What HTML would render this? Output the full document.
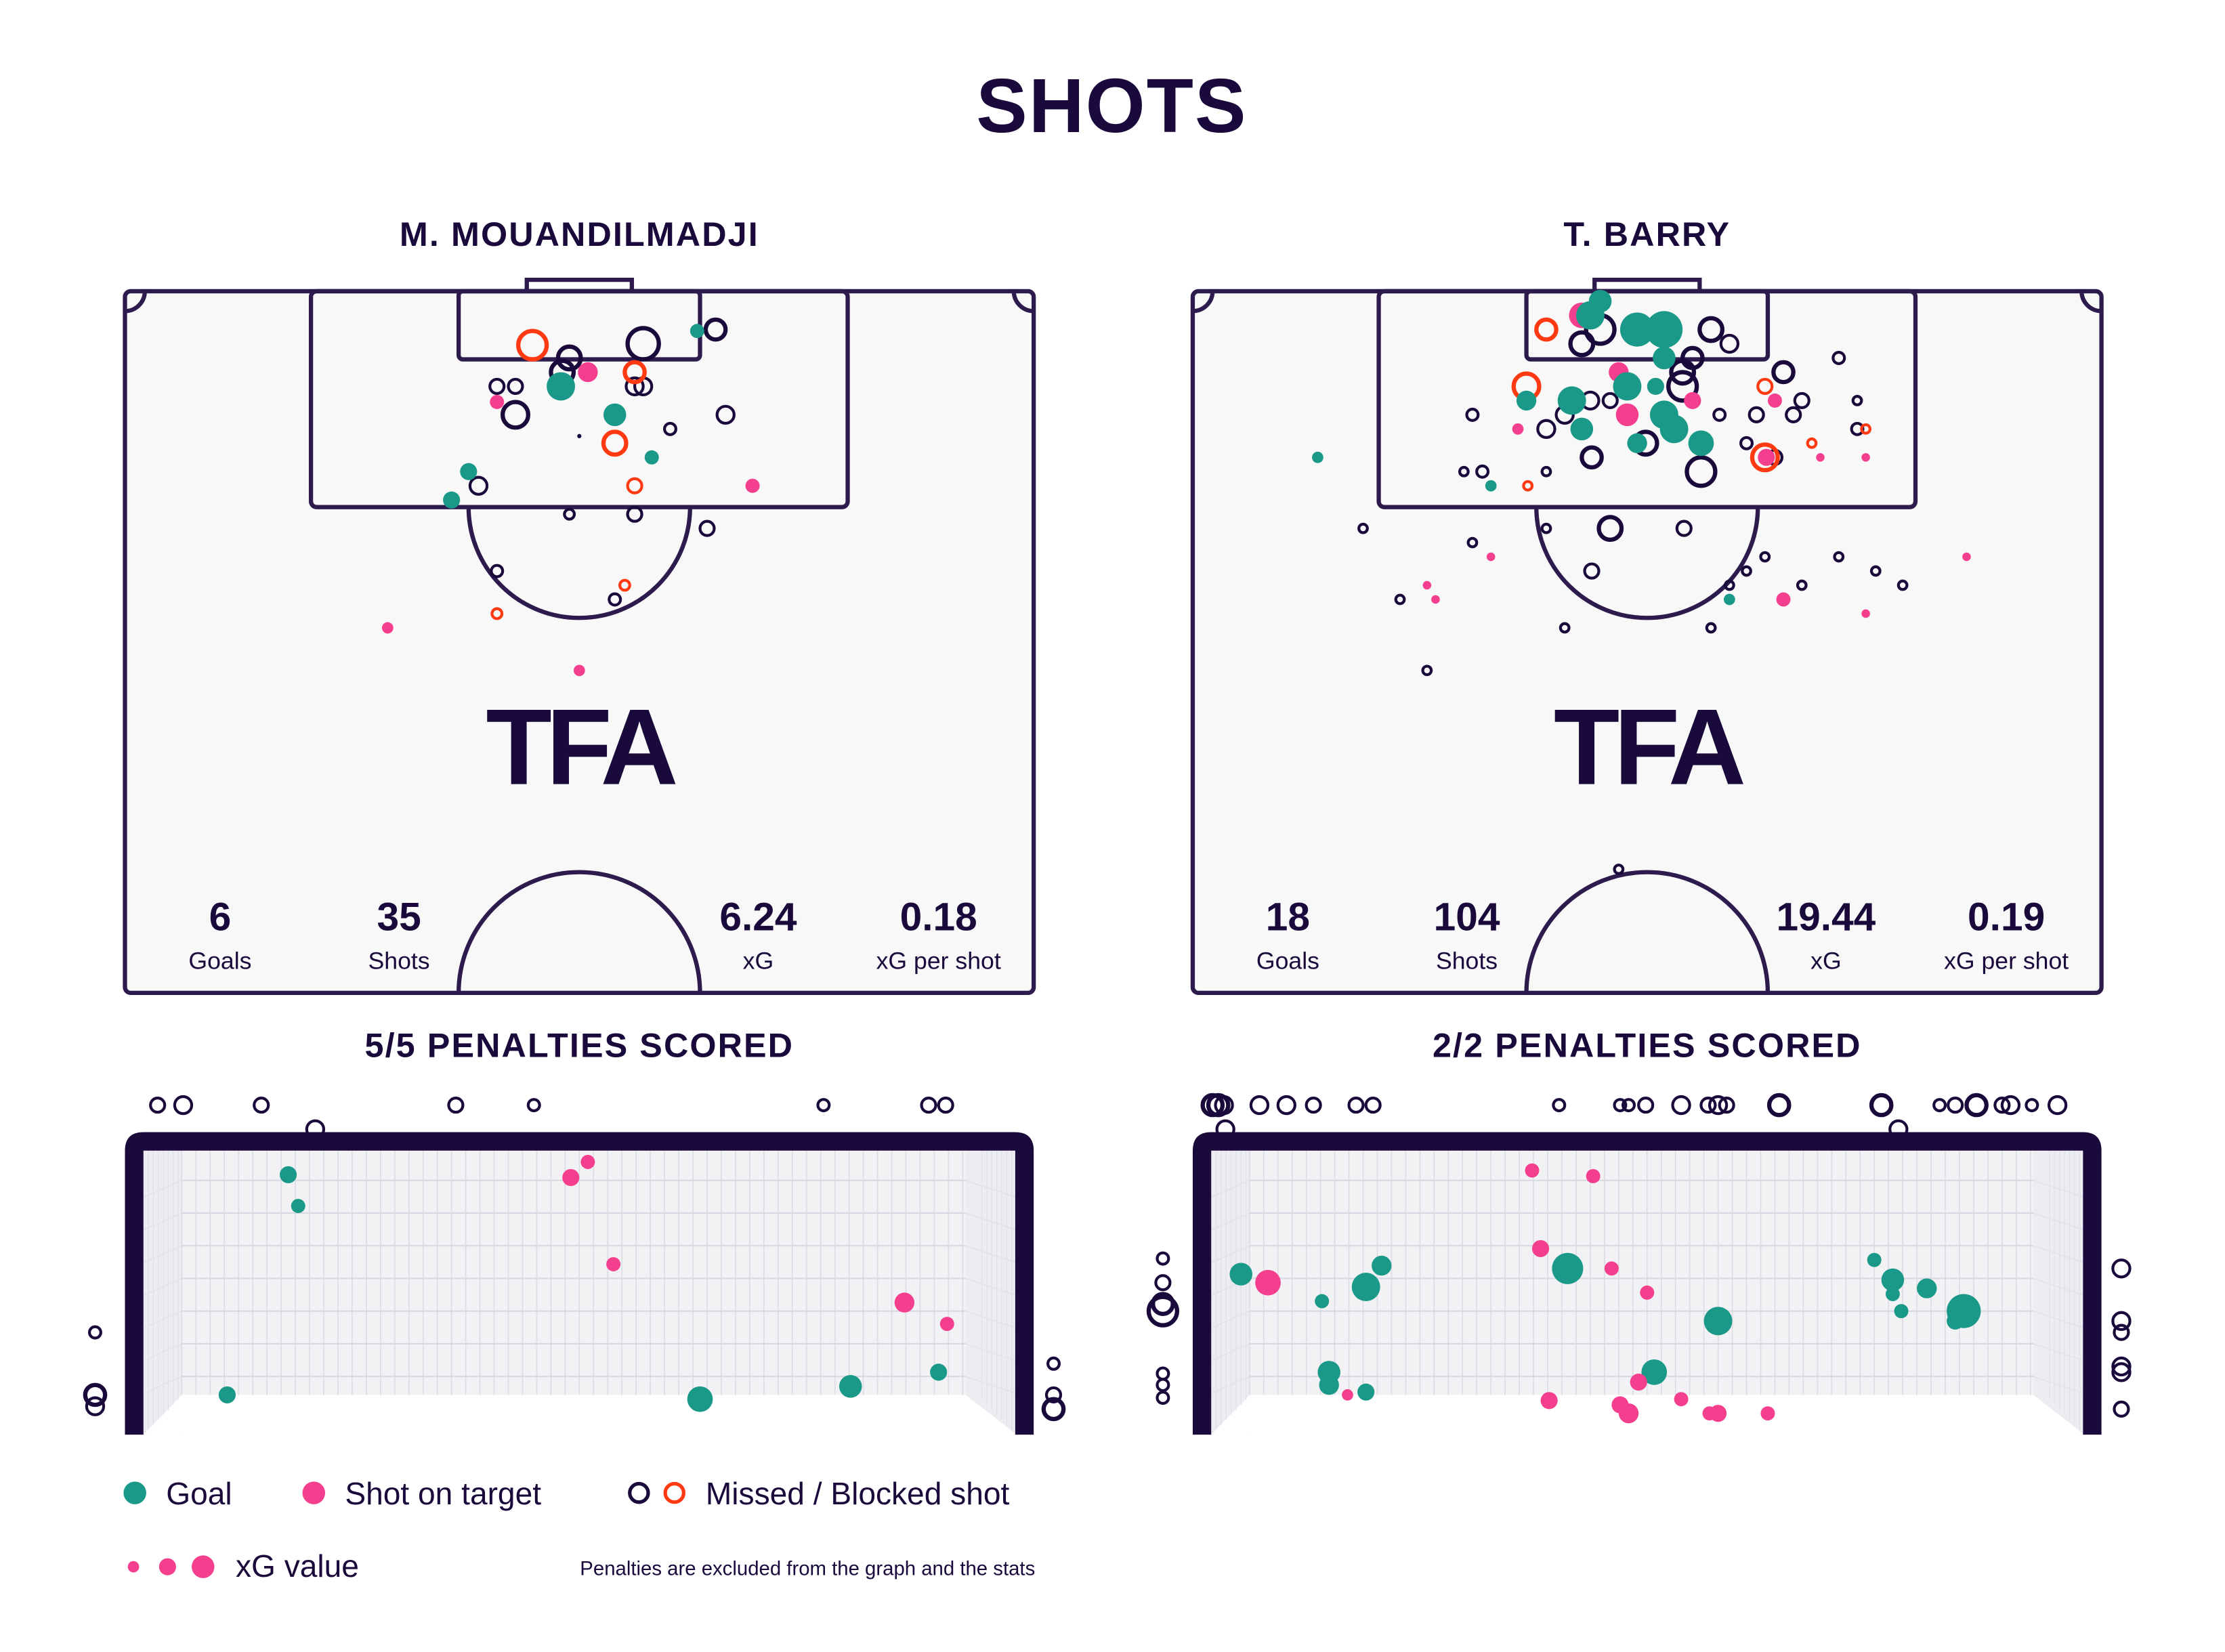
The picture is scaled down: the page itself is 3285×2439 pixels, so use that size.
<!DOCTYPE html>
<html><head><meta charset="utf-8"><style>
html,body{margin:0;padding:0;background:#fff}
svg{display:block}
text{font-family:"Liberation Sans",sans-serif;fill:#1a0a3c}
.b{font-weight:bold}
</style></head><body>
<svg id="s" xmlns="http://www.w3.org/2000/svg" width="3285" height="2439" viewBox="0 0 1567 1163" preserveAspectRatio="none">
<rect width="1567" height="1163" fill="#fff"/>
<text x="783" y="93" text-anchor="middle" class="b" font-size="54" letter-spacing="1">SHOTS</text>
<g id="pitches"></g>
<text x="408" y="173" text-anchor="middle" class="b" font-size="24" letter-spacing="1">M. MOUANDILMADJI</text>
<text x="1160" y="173" text-anchor="middle" class="b" font-size="24" letter-spacing="1">T. BARRY</text>
<text x="408" y="744" text-anchor="middle" class="b" font-size="24" letter-spacing="1">5/5 PENALTIES SCORED</text>
<text x="1160" y="744" text-anchor="middle" class="b" font-size="24" letter-spacing="1">2/2 PENALTIES SCORED</text>
<g id="dots"></g>
<g font-size="22">
<circle cx="95" cy="1051" r="8" fill="#1a9988"/><text x="117" y="1059">Goal</text>
<circle cx="221" cy="1051" r="8" fill="#f43f8f"/><text x="243" y="1059">Shot on target</text>
<circle cx="450" cy="1051" r="6.5" fill="none" stroke="#1a0a3c" stroke-width="2.5"/>
<circle cx="475" cy="1051" r="6.5" fill="none" stroke="#ff3a12" stroke-width="2.5"/><text x="497" y="1059">Missed / Blocked shot</text>
<circle cx="94" cy="1103" r="4" fill="#f43f8f"/><circle cx="118" cy="1103" r="6" fill="#f43f8f"/><circle cx="143" cy="1103" r="8" fill="#f43f8f"/>
<text x="166" y="1110">xG value</text>
</g>
<text x="729" y="1109" text-anchor="end" font-size="14">Penalties are excluded from the graph and the stats</text>
</svg>
<script>
var NS="http://www.w3.org/2000/svg",P=document.getElementById("pitches"),D=document.getElementById("dots");
function el(t,a,p){var e=document.createElementNS(NS,t);for(var k in a)e.setAttribute(k,a[k]);(p||P).appendChild(e);return e;}
var L="#2d1b4e";
function pitch(o,st){
 var g=el("g",{transform:"translate("+o+",0)",fill:"none",stroke:L,"stroke-width":3});
 el("rect",{x:88,y:205,width:640,height:494,rx:4,fill:"#f8f8f8"},g);
 el("path",{d:"M330,357 A78,78 0 0 0 486,357"},g);
 el("rect",{x:219,y:205,width:378,height:152,rx:4},g);
 el("rect",{x:323,y:205,width:170,height:48,rx:3},g);
 el("path",{d:"M371,205 V197 H445 V205"},g);
 el("path",{d:"M323,699 A85,85 0 0 1 493,699"},g);
 el("path",{d:"M88,219 A14,14 0 0 0 102,205 M728,219 A14,14 0 0 1 714,205"},g);
 var t=el("text",{x:408,y:552,"text-anchor":"middle","font-size":76,"font-weight":"bold",stroke:"none","letter-spacing":-4},g);t.textContent="TFA";
 var xs=[155,281,534,661],lab=["Goals","Shots","xG","xG per shot"];
 for(var i=0;i<4;i++){var a=el("text",{x:xs[i],y:655,"text-anchor":"middle","font-size":28,"font-weight":"bold",stroke:"none"},g);a.textContent=st[i];
  var b=el("text",{x:xs[i],y:682,"text-anchor":"middle","font-size":17,stroke:"none"},g);b.textContent=lab[i];}
 var n=el("g",{},g);
 el("rect",{x:101,y:808,width:615,height:202,fill:"#f2f2f5",stroke:"none"},n);
 el("polygon",{points:"101,808 128,808 128,982 101,1010",fill:"#ececf1",stroke:"none"},n);
 el("polygon",{points:"716,808 680,808 680,982 716,1010",fill:"#ececf1",stroke:"none"},n);
 el("rect",{x:128,y:982,width:552,height:28,fill:"#fff",stroke:"none"},n);
 el("polygon",{points:"101,1010 128,982 128,1010",fill:"#fff",stroke:"none"},n);
 el("polygon",{points:"716,1010 680,982 680,1010",fill:"#fff",stroke:"none"},n);
 for(var x=128;x<=680;x+=10)el("line",{x1:x,y1:808,x2:x,y2:982,stroke:"#dcdce4","stroke-width":0.8},n);
 for(var y=808;y<=982;y+=23)el("line",{x1:128,y1:y,x2:680,y2:y,stroke:"#d8d8e2","stroke-width":1},n);
 for(var k=0;k<8;k++){var dx=k*3.5;el("line",{x1:101+dx,y1:808,x2:101+dx,y2:1010-dx,stroke:"#e0e0e8","stroke-width":0.6},n);el("line",{x1:716-dx,y1:808,x2:716-dx,y2:1010-dx,stroke:"#e0e0e8","stroke-width":0.6},n);}
 for(var y=831;y<=982;y+=23){el("line",{x1:101,y1:y+12,x2:128,y2:y,stroke:"#e0e0e8","stroke-width":0.6},n);el("line",{x1:716,y1:y+12,x2:680,y2:y,stroke:"#e0e0e8","stroke-width":0.6},n);}
 el("path",{d:"M88,1010 V810 Q88,797 101,797 H715 Q728,797 728,810 V1010 H715 V810 H101 V1010 Z",fill:"#1a0a3c",stroke:"none"},g);
}
pitch(0,["6","35","6.24","0.18"]);pitch(752,["18","104","19.44","0.19"]);
var T="#1a9988",K="#f43f8f",N="#1a0a3c",R="#ff3a12";
function f(c,a){a.forEach(function(p){el("circle",{cx:p[0],cy:p[1],r:p[2],fill:c},D);});}
function r(c,a){a.forEach(function(p){el("circle",{cx:p[0],cy:p[1],r:p[2],fill:"none",stroke:c,"stroke-width":p[2]>6?3:2},D);});}
r(N,[[401,252,8],[453,242,11],[504,232,7],[396,262,8],[350,272,5],[363,272,5],[447,272,6],[453,272,6],[363,292,9],[511,292,6],[472,302,4],[337,342,6],[401,362,3.5],[447,362,5],[498,372,5],[350,402,4],[433,422,4]]);
r(R,[[375,243,10],[447,262,7],[433,312,8],[447,342,5],[440,412,3.5],[350,432,3.5]]);
f(N,[[408,307,1.5]]);
f(T,[[395,272,10],[433,292,8],[459,322,5],[330,332,6],[318,352,6],[491,233,5]]);
f(K,[[414,262,7],[350,283,5],[530,342,5],[273,442,4],[408,472,4]]);
r(N,[[1114,242,8],[1127,232,10],[1205,232,8],[1218,242,6],[1185,262,8],[1185,272,10],[1192,252,7],[1256,262,7],[1295,252,4],[1037,292,4],[1089,302,6],[1102,292,6],[1120,282,6],[1134,282,5],[1211,292,4],[1237,292,5],[1269,282,5],[1263,292,5],[1308,282,3],[1308,302,4],[1121,322,7],[1159,312,8],[1198,332,10],[1230,312,4],[1250,322,5],[1031,332,3],[1044,332,4],[1089,332,3],[1134,372,8],[1186,372,5],[960,372,3],[1037,382,3],[1089,372,3],[1121,402,5],[1243,392,3],[1230,402,3],[1218,412,3],[1269,412,3],[1295,392,3],[1321,402,3],[1340,412,3],[986,422,3],[1102,442,3],[1205,442,3],[1005,472,3],[1140,612,3]]);
r(R,[[1075,272,9],[1089,232,7],[1243,272,5],[1243,322,9],[1276,312,3],[1314,302,3],[1076,342,3]]);
f(K,[[1114,222,9],[1140,262,7],[1146,292,8],[1192,282,6],[1250,282,5],[1069,302,4],[1244,322,6],[1282,322,3],[1314,322,3],[1050,392,3],[1005,412,3],[1011,422,3],[1256,422,5],[1385,392,3],[1314,432,3]]);
f(T,[[1127,212,8],[1120,222,10],[1153,232,12],[1172,232,13],[1172,252,8],[1166,272,6],[1146,272,10],[1107,282,10],[1075,282,7],[1114,302,8],[1172,292,10],[1179,302,10],[1153,312,7],[1198,312,9],[928,322,4],[1050,342,4],[1218,422,4]]);
r(N,[[111,778,5],[129,778,6],[184,778,5],[321,778,5],[376,778,4],[580,778,4],[654,778,5],[666,778,5],[222,795,6],[67,938,4],[67,982,7],[67,990,6],[742,960,4],[742,982,5],[742,992,7]]);
f(T,[[203,827,6],[210,849,5],[160,982,6],[493,985,9],[599,976,8],[661,966,6]]);
f(K,[[414,818,5],[402,829,6],[432,890,5],[637,917,7],[667,932,5]]);
var topRow=[[854,7],[858,7],[862,6],[887,6],[906,6],[925,5],[955,5],[967,5],[1098,4],[1141,4],[1147,4],[1159,5],[1184,6],[1203,5],[1210,6],[1216,5],[1253,7],[1325,7],[1366,4],[1377,5],[1392,7],[1410,5],[1416,6],[1431,4],[1449,6]];
r(N,topRow.map(function(p){return [p[0],778,p[1]];}));
r(N,[[863,795,6],[1337,795,6],[819,886,4],[819,903,5],[819,918,7],[819,923,10],[819,967,4],[819,975,4],[819,984,4],[1494,893,6],[1494,930,6],[1494,938,5],[1494,962,6],[1494,966,6],[1494,992,5]]);
f(T,[[874,897,8],[962,906,10],[973,891,7],[931,916,5],[936,966,8],[936,975,7],[962,980,6],[1104,893,11],[1210,930,10],[1165,966,9],[1320,887,5],[1333,901,8],[1333,911,5],[1339,923,5],[1357,907,7],[1383,923,12],[1377,930,6]]);
f(K,[[893,903,9],[1079,824,5],[1122,828,5],[1085,879,6],[1135,893,5],[1160,910,5],[949,982,4],[1091,986,6],[1141,989,6],[1147,995,7],[1154,973,6],[1184,985,5],[1204,995,5],[1210,995,6],[1245,995,5]]);
</script>
</body></html>
